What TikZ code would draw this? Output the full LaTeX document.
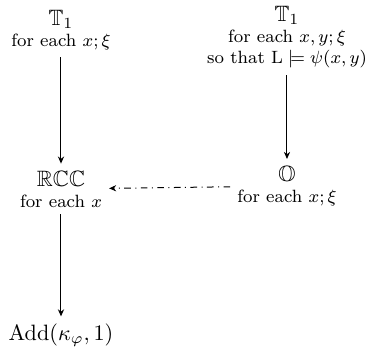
\documentclass[tikz,border=0pt]{standalone}
\usepackage{amssymb}
\usetikzlibrary{arrows.meta}
\begin{document}
\begin{tikzpicture}[x=0.45pt,y=-0.45pt,
  box/.style={align=center,font=\footnotesize,inner sep=3pt},
  arr/.style={-{Stealth[length=3.2pt,width=2.8pt]},line width=0.45pt},
  darr/.style={arr,dash dot}]
\useasboundingbox (0,0) rectangle (365,353);
\node[box,anchor=north] (A) at (61,3) {{\normalsize $\mathbb{T}_1$}\\for each $x;\xi$};
\node[box,anchor=north] (D) at (287,-1) {{\normalsize $\mathbb{T}_1$}\\for each $x,y;\xi$\\so that $\mathrm{L}\models\psi(x,y)$};
\node[box] (B) at (61,189) {{\normalsize $\mathbb{RCC}$}\\for each $x$};
\node[box] (E) at (287,186) {{\normalsize $\mathbb{O}$}\\for each $x;\xi$};
\node[box,font=\normalsize] (C) at (61,335) {Add$(\kappa_\varphi,1)$};
\draw[arr] (A) -- (B);
\draw[arr] (D) -- (E);
\draw[arr] (B) -- (C);
\draw[darr] (E) -- (B);
\end{tikzpicture}
\end{document}
